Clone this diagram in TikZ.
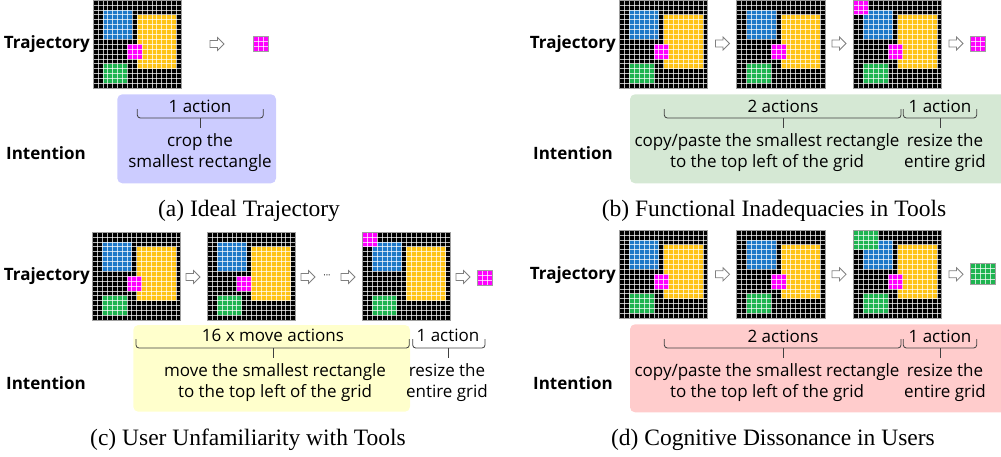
\documentclass[tikz,border=0pt]{standalone}
\usepackage{fontspec}
\setmainfont{Liberation Serif}
\newfontfamily\uifont{Open Sans}
\usetikzlibrary{calc}
\definecolor{arcblue}{RGB}{30,120,200}
\definecolor{arcyellow}{RGB}{255,195,20}
\definecolor{arcgreen}{RGB}{30,180,80}
\definecolor{arcmag}{RGB}{255,0,255}
\definecolor{gborderc}{RGB}{160,160,160}
\definecolor{boxA}{RGB}{204,204,255}
\definecolor{boxB}{RGB}{213,232,212}
\definecolor{boxC}{RGB}{255,255,204}
\definecolor{boxD}{RGB}{255,204,204}
\tikzset{
  gridln/.style={draw=white, draw opacity=0.72, line width=0.6pt},
  gridbd/.style={draw=gborderc, line width=0.9pt},
  harr/.style={draw=gray, fill=white, line width=0.8pt, line join=miter},
  brc/.style={draw=black!75, line width=0.8pt},
  lbl/.style={font=\uifont\bfseries\fontsize{17}{20}\selectfont, anchor=east, inner sep=0pt},
  txt/.style={font=\uifont\fontsize{17}{21}\selectfont, align=center, inner sep=0pt},
  captxt/.style={font=\fontsize{23.5}{28}\selectfont, inner sep=0pt},
  panelbox/.style={rounded corners=5pt}
}
\newcommand{\blk}[5]{\fill[#1] (#2,#3) rectangle ++(#4,#5);}
\newcommand{\arcgrid}[4]{%
  \begin{scope}[xshift=#2pt, yshift=-#3pt, x=4.9pt, y=-4.9pt]
    \fill[black] (0,0) rectangle (18,18);
    #4
    \foreach \k in {1,...,17}{\draw[gridln] (\k,0) -- (\k,18); \draw[gridln] (0,\k) -- (18,\k);}
    \draw[gridbd] (0,0) rectangle (18,18);
    \coordinate (#1) at (9,9);
  \end{scope}}
\newcommand{\smallgrid}[8]{%
  \begin{scope}[xshift=#2pt, yshift=-#3pt, x=#7pt, y=-#8pt]
    \fill[#6] (0,0) rectangle (#4,#5);
    \foreach \k in {1,...,#4}{\draw[gridln] (\k,0) -- (\k,#5);}
    \foreach \k in {1,...,#5}{\draw[gridln] (0,\k) -- (#4,\k);}
    \draw[gridbd] (0,0) rectangle (#4,#5);
    \coordinate (#1) at (0,0);
  \end{scope}}
\newcommand{\harrow}[3]{%
  \coordinate (#1) at (#2,#3);
  \draw[harr, shift={(#1)}] (-7,-3.5) -- (0.5,-3.5) -- (0.5,-6.5) -- (7,0) -- (0.5,6.5) -- (0.5,3.5) -- (-7,3.5) -- cycle;}
\newcommand{\ubrace}[4]{%
  \draw[brc, rounded corners=3pt] (#1,#4) -- (#1,#4+9) -- (#2,#4+9) -- (#2,#4);
  \draw[brc] (#3,#4+9) -- (#3,#4+19);}
\newcommand{\basegrid}{\blk{arcblue}{2}{2}{6}{6}\blk{arcyellow}{9}{3}{8}{11}\blk{arcgreen}{2}{13}{5}{4}}
\newcommand{\magorig}{\blk{arcmag}{7}{9}{3}{3}}
\begin{document}
\begin{tikzpicture}[x=1pt, y=-1pt]
\useasboundingbox (0,0) rectangle (1001,456);
% ---------- panel (a)
\fill[boxA, panelbox] (117.3,94.3) rectangle (276,183.3);
\node[lbl] (trajA) at (90,44) {Trajectory};
\arcgrid{gA1}{93}{0}{\basegrid\magorig}
\harrow{arA1}{217}{44}
\smallgrid{outA}{253.3}{36.3}{3}{3}{arcmag}{5}{5}
\node[lbl] (intA) at (86,153) {Intention};
\node[txt] (nA1) at (200,106) {1 action};
\ubrace{137.3}{263.3}{200}{109}
\node[txt] (iA1) at (200,152.5) {crop the\\smallest rectangle};
\node[captxt] (capA) at (249,211) {(a) Ideal Trajectory};
% ---------- panel (b)
\fill[boxB, panelbox] (630,94.3) rectangle (1008,183.3);
\node[lbl] (trajB) at (616,44) {Trajectory};
\arcgrid{gB1}{619.5}{0}{\basegrid\magorig}
\harrow{arB1}{722.5}{43.5}
\arcgrid{gB2}{736.8}{0}{\basegrid\magorig}
\harrow{arB2}{839}{43.5}
\arcgrid{gB3}{853.5}{0}{\basegrid\magorig\blk{arcmag}{0}{0}{3}{3}}
\harrow{arB3}{956}{43.5}
\smallgrid{outB}{970.7}{36.7}{3}{3}{arcmag}{5}{5}
\node[lbl] (intB) at (613,153) {Intention};
\node[txt] (nB1) at (783,106) {2 actions};
\ubrace{664.3}{901}{783.3}{109}
\node[txt] (nB2) at (940,106) {1 action};
\ubrace{903.3}{976.7}{940}{109}
\node[txt] (iB1) at (767,152.5) {copy/paste the smallest rectangle\\to the top left of the grid};
\node[txt] (iB2) at (945,152.5) {resize the\\entire grid};
\node[captxt] (capB) at (774,211) {(b) Functional Inadequacies in Tools};
% ---------- panel (c)
\fill[boxC, panelbox] (133.3,325) rectangle (410,411.7);
\node[lbl] (trajC) at (90,276) {Trajectory};
\arcgrid{gC1}{92.5}{232}{\basegrid\magorig}
\harrow{arC1}{193}{277}
\arcgrid{gC2}{207.3}{232}{\basegrid\blk{arcmag}{6}{9}{3}{3}}
\harrow{arC2}{308}{277}
\node[font=\uifont\fontsize{9}{10}\selectfont, inner sep=0pt] (dotsC) at (327,277) {···};
\harrow{arC3}{348}{277}
\arcgrid{gC3}{362.3}{232}{\basegrid\blk{arcmag}{0}{0}{3}{3}}
\harrow{arC4}{463}{277}
\smallgrid{outC}{477.3}{270}{3}{3}{arcmag}{5}{5}
\node[lbl] (intC) at (86,383) {Intention};
\node[txt] (nC1) at (273,335) {16 x move actions};
\ubrace{136}{409.3}{273.3}{339}
\node[txt] (nC2) at (448,335) {1 action};
\ubrace{412.7}{485}{448.3}{339}
\node[txt] (iC1) at (275,382.5) {move the smallest rectangle\\to the top left of the grid};
\node[txt] (iC2) at (447,382.5) {resize the\\entire grid};
\node[captxt] (capC) at (248,440) {(c) User Unfamiliarity with Tools};
% ---------- panel (d)
\fill[boxD, panelbox] (630,324.3) rectangle (1008,412.3);
\node[lbl] (trajD) at (616,275) {Trajectory};
\arcgrid{gD1}{619.5}{230}{\basegrid\magorig}
\harrow{arD1}{722.5}{274.3}
\arcgrid{gD2}{736.8}{230}{\basegrid\magorig}
\harrow{arD2}{839}{274.3}
\arcgrid{gD3}{853.5}{230}{\basegrid\magorig\blk{arcgreen}{0}{0}{5}{4}}
\harrow{arD3}{956}{274.3}
\smallgrid{outD}{970.7}{263.3}{5}{4}{arcgreen}{4.86}{5.2}
\node[lbl] (intD) at (613,383) {Intention};
\node[txt] (nD1) at (783,336) {2 actions};
\ubrace{664.3}{901}{783.3}{339}
\node[txt] (nD2) at (940,336) {1 action};
\ubrace{903.3}{976.7}{940}{339}
\node[txt] (iD1) at (767,382.5) {copy/paste the smallest rectangle\\to the top left of the grid};
\node[txt] (iD2) at (945,382.5) {resize the\\entire grid};
\node[captxt] (capD) at (773,440) {(d) Cognitive Dissonance in Users};
\end{tikzpicture}
\end{document}
